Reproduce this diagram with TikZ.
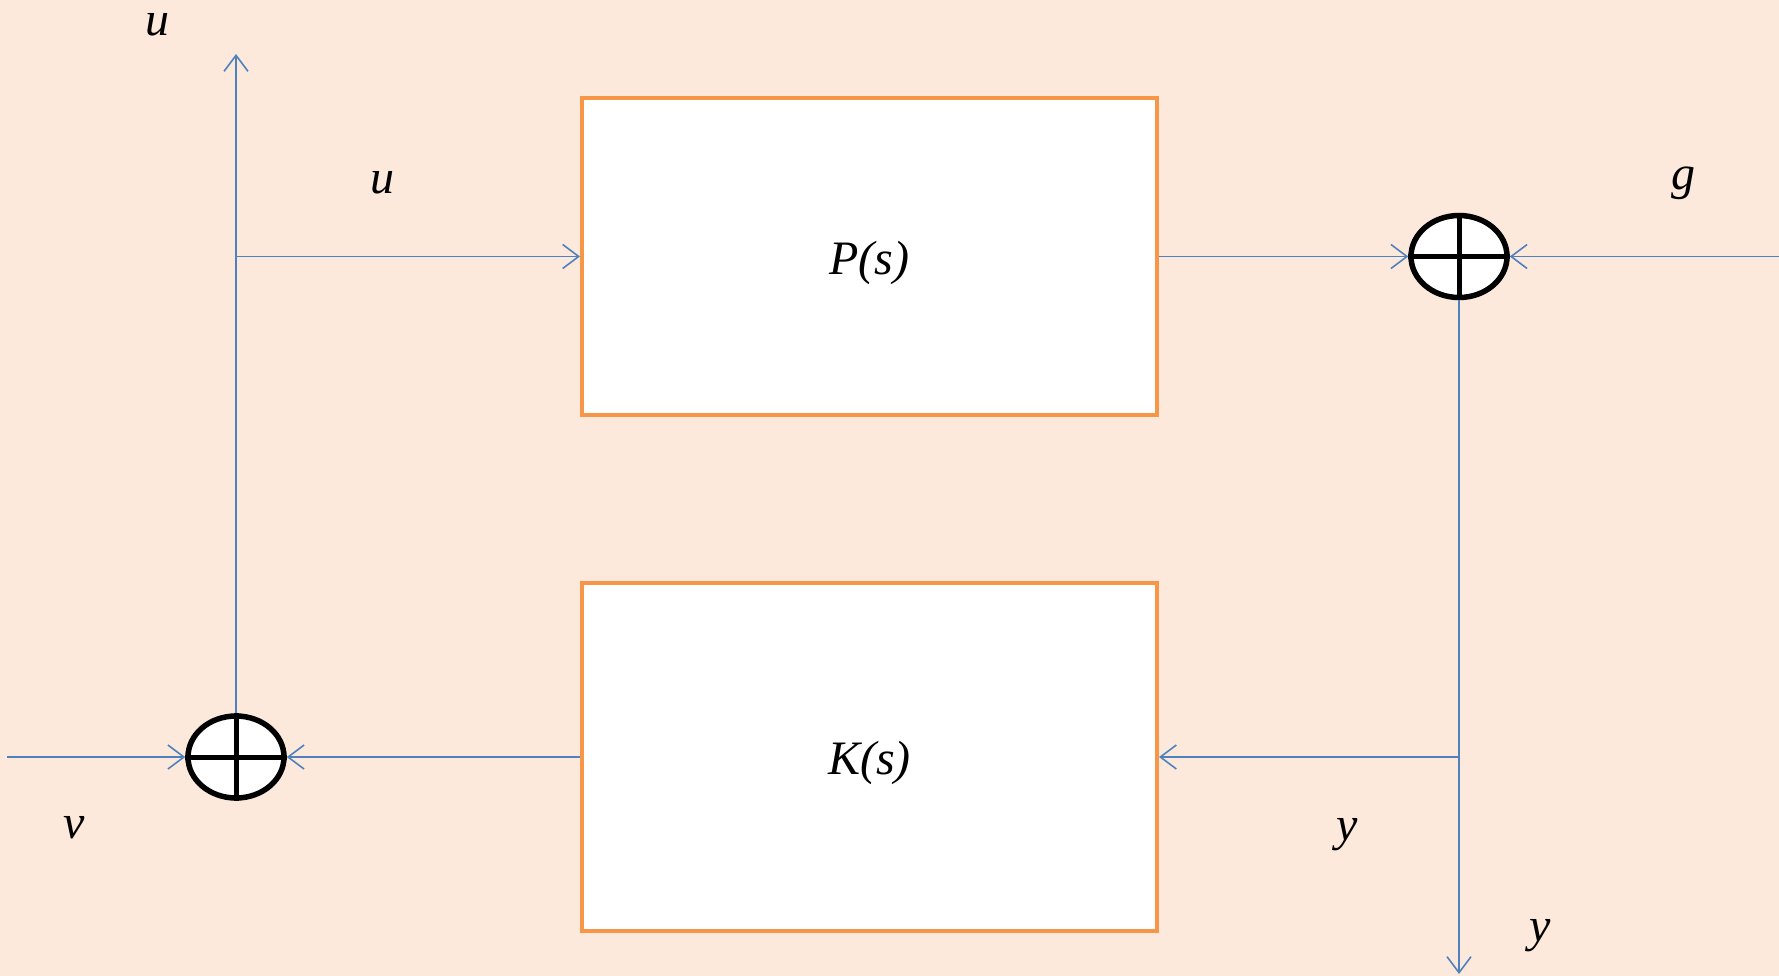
\documentclass[tikz,border=0pt]{standalone}
\usepackage{fontspec}
\setmainfont{Liberation Serif}
\usetikzlibrary{arrows.meta,shapes.geometric}
\definecolor{bgpeach}{RGB}{252,233,219}
\definecolor{boxorange}{RGB}{247,150,70}
\definecolor{sigblue}{RGB}{79,129,189}
\tikzset{
  blockbox/.style={draw=boxorange, line width=4pt, fill=white, minimum width=575pt, inner sep=0pt},
  sumnode/.style={ellipse, draw=black, line width=5.5pt, fill=white, minimum width=96pt, minimum height=82pt, inner sep=0pt},
  sig/.style={draw=sigblue, line width=1.6pt, -{Straight Barb[length=16pt,width=24pt,line width=1.6pt]}},
  lbl/.style={font=\fontsize{48}{52}\selectfont\itshape, inner sep=0pt}
}
\begin{document}
\begin{tikzpicture}[x=1pt,y=-1pt]
\fill[bgpeach] (0,0) rectangle (1779,976);
\useasboundingbox (0,0) rectangle (1779,976);
% blocks
\node[blockbox, minimum height=317pt] (P) at (869.5,256.5) {};
\node[blockbox, minimum height=348pt] (K) at (869.5,757) {};
\node[lbl] (Ptxt) at ([yshift=-6pt]P.center) {P(s)};
\node[lbl] (Ktxt) at ([yshift=-6pt]K.center) {K(s)};
% summing junctions
\node[sumnode] (sumR) at (1459,256.5) {};
\node[sumnode] (sumL) at (236,757) {};
\draw[line width=5pt] (sumR.north) -- (sumR.south) (sumR.west) -- (sumR.east);
\draw[line width=5pt] (sumL.north) -- (sumL.south) (sumL.west) -- (sumL.east);
% coordinates
\coordinate (uTop) at (236,54);
\coordinate (uBr) at (236,256.5);
\coordinate (gIn) at (1779,256.5);
\coordinate (yOut) at (1459,974);
\coordinate (yBr) at (1459,757);
\coordinate (vIn) at (7,757);
% connectors
\draw[sig] (sumL.north) -- (uTop);
\draw[sig] (uBr) -- (P.west);
\draw[sig] (P.east) -- (sumR.west);
\draw[sig] (gIn) -- (sumR.east);
\draw[sig] (sumR.south) -- (yOut);
\draw[sig] (yBr) -- (K.east);
\draw[sig] (K.west) -- (sumL.east);
\draw[sig] (vIn) -- (sumL.west);
% labels
\node[lbl] (lu1) at (157,25) {u};
\node[lbl] (lu2) at (382,183) {u};
\node[lbl] (lg) at (1683,183) {g};
\node[lbl] (lv) at (74,828) {v};
\node[lbl] (ly1) at (1347,835) {y};
\node[lbl] (ly2) at (1540,936) {y};
\end{tikzpicture}
\end{document}
